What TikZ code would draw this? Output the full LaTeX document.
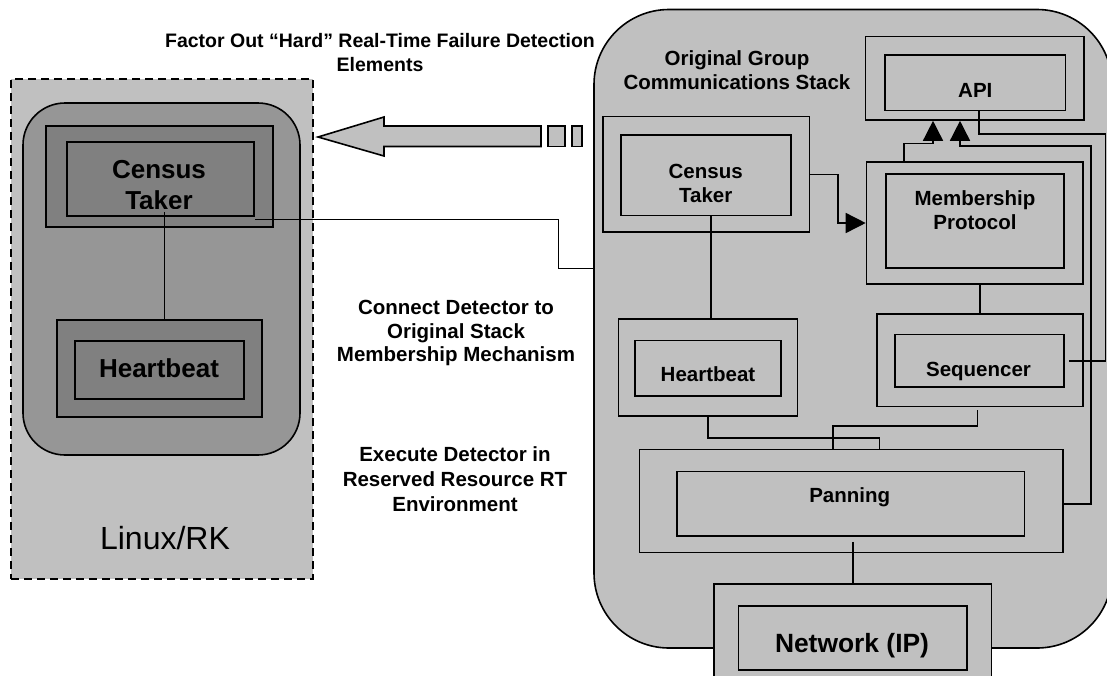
\documentclass[tikz,border=0pt]{standalone}
\usepackage{fontspec}
\setmainfont{Liberation Sans}
\usetikzlibrary{arrows.meta}
\definecolor{panelgray}{RGB}{192,192,192}
\definecolor{hostgray}{RGB}{150,150,150}
\definecolor{modgray}{RGB}{128,128,128}
\begin{document}
\begin{tikzpicture}[x=1pt,y=-1pt,
  box/.style={draw=black, rectangle, inner sep=0pt, line width=1.6pt},
  wire/.style={draw=black, line width=1.5pt},
  tri/.style={-{Triangle[length=20pt,width=20pt]}},
  lbl/.style={font=\bfseries\fontsize{20.5}{24}\selectfont, align=center, inner sep=0pt},
  biglbl/.style={font=\bfseries\fontsize{26}{31}\selectfont, align=center, inner sep=0pt}]
\useasboundingbox (0,0) rectangle (1107,675);
\clip (0,0) rectangle (1107,675);

% ---------- Linux/RK host ----------
\node[box, fill=panelgray, dash pattern=on 8pt off 5pt,
      minimum width=302pt, minimum height=500pt] (host) at (162,329) {};
\node[box, fill=hostgray, rounded corners=42pt,
      minimum width=277pt, minimum height=352pt] (rk) at (161.5,279) {};
\node[font=\fontsize{32}{36}\selectfont, inner sep=0pt] (hostT) at (165,538) {Linux/RK};

\node[box, fill=modgray, minimum width=227pt, minimum height=101pt] (lcto) at (159.5,176.5) {};
\node[box, fill=modgray, minimum width=187pt, minimum height=74pt] (lcti) at (160.5,179) {};
\begin{scope}
  \clip (67,142) rectangle (254,208);
  \node[biglbl] (lctT) at (159,185) {Census\\Taker};
\end{scope}

\node[box, fill=modgray, minimum width=205pt, minimum height=97pt] (lhbo) at (159.5,368.5) {};
\node[box, fill=modgray, minimum width=169pt, minimum height=58pt] (lhbi) at (159.5,370) {};
\node[biglbl] (lhbT) at (159,368) {Heartbeat};

\draw[wire] ([xshift=5pt]lhbo.north |- 0,212) -- ([xshift=5pt]lhbo.north);

% ---------- original stack ----------
\node[box, fill=panelgray, rounded corners=75pt,
      minimum width=518pt, minimum height=638.5pt] (stack) at (853,328.75) {};
\node[lbl] (stackT) at (737,70) {Original Group\\Communications Stack};

\node[box, minimum width=218.5pt, minimum height=83.5pt] (apio) at (974.75,78.25) {};
\node[box, minimum width=180.5pt, minimum height=55.5pt] (apii) at (975.25,82.75) {};
\node[lbl] (apiT) at (975.3,90) {API};

\node[box, minimum width=206.5pt, minimum height=115.5pt] (cto) at (706.25,174.25) {};
\node[box, minimum width=170pt, minimum height=80.5pt] (cti) at (706,175.25) {};
\node[lbl] (ctT) at (705.7,183) {Census\\Taker};

\node[box, minimum width=216.5pt, minimum height=122pt] (mpo) at (974.75,223) {};
\node[box, minimum width=178pt, minimum height=94pt] (mpi) at (975,221) {};
\node[lbl] (mpT) at (975,210.4) {Membership\\Protocol};

\node[box, minimum width=206pt, minimum height=92.5pt] (seqo) at (980,360.25) {};
\node[box, minimum width=169pt, minimum height=52.5pt] (seqi) at (979.5,360.75) {};
\node[lbl] (seqT) at (978.5,371) {Sequencer};

\node[box, minimum width=179pt, minimum height=97pt] (hbo) at (708,367.5) {};
\node[box, minimum width=146pt, minimum height=55.5pt] (hbi) at (708,368.25) {};
\node[lbl] (hbT) at (708,374.6) {Heartbeat};

\node[box, minimum width=423.5pt, minimum height=103pt] (pno) at (851.25,501) {};
\node[box, minimum width=347.5pt, minimum height=64.5pt] (pni) at (850.75,503.75) {};
\node[lbl] (pnT) at (849.7,497.6) {Panning};

\node[box, fill=panelgray, minimum width=277.5pt, minimum height=116pt] (nwo) at (852.75,642) {};
\node[box, minimum width=228.5pt, minimum height=64pt] (nwi) at (852.75,638) {};
\node[font=\bfseries\fontsize{26.4}{30}\selectfont, inner sep=0pt] (nwT) at (852,645.5) {Network (IP)};

% ---------- connectors inside the stack ----------
\draw[wire, tri] (cto.east) -- (838,174.25) |- (mpo.west);
\draw[wire, tri] ([xshift=-71pt]mpo.north) -- ++(0,-17.5) -| ([xshift=-41.75pt]apio.south);
\draw[wire, tri] ([yshift=-3pt]pno.east) -| (1091,146) -| ([xshift=-14.75pt]apio.south);
\draw[wire] ([xshift=3.5pt]apii.south) |- (1105.5,134) |- ([xshift=4.4pt]seqi.east);
\draw[wire] (seqo.north |- mpo.south) -- (seqo.north);
\draw[wire] ([xshift=3pt]hbo.north |- cti.south) -- ([xshift=3pt]hbo.north);
\draw[wire] (hbo.south) -- ++(0,21) -| ([xshift=28pt]pno.north);
\draw[wire] ([xshift=-2.4pt]seqo.south) ++(0,2.7) -- ++(0,16.2) -| ([xshift=-18.45pt]pno.north);
\draw[wire] (nwo.north |- pni.south) ++(0,5) -- (nwo.north);

% ---------- detector link to the stack ----------
\coordinate (ctlink) at (255,219.5);
\draw[wire] (ctlink) -- (558.3,219.5) |- (stack.west |- 0,268.3);

% ---------- factor-out arrow ----------
\draw[fill=panelgray, line width=1.6pt, line join=miter]
  (318,137) -- (384,117) -- (384,126) -- (541,126) -- (541,146.5)
  -- (384,146.5) -- (384,156) -- cycle;
\draw[fill=panelgray, line width=1.6pt] (548,126) rectangle (565,146.5);
\draw[fill=panelgray, line width=1.6pt] (572,126) rectangle (582,146.5);

% ---------- annotations ----------
\node[lbl, font=\bfseries\fontsize{19.5}{24}\selectfont] (factorT) at (380,53) {Factor Out “Hard” Real-Time Failure Detection\\Elements};
\node[lbl, font=\bfseries\fontsize{20.5}{23.4}\selectfont] (connectT) at (456,333) {Connect Detector to\\Original Stack\\Membership Mechanism};
\node[lbl, font=\bfseries\fontsize{20.5}{25}\selectfont] (executeT) at (455,479) {Execute Detector in\\Reserved Resource RT\\Environment};
\end{tikzpicture}
\end{document}
